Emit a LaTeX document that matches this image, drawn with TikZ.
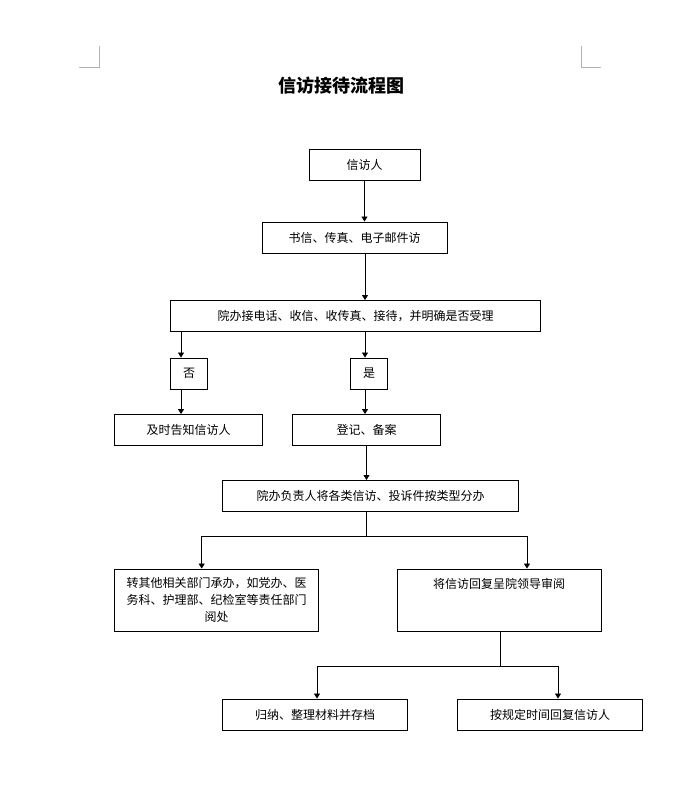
\documentclass[tikz,border=0pt]{standalone}
\usepackage{fontspec}
\newfontfamily\cjk{Noto Sans CJK SC}
\usetikzlibrary{arrows.meta}
\begin{document}
\begin{tikzpicture}[x=1pt,y=-1pt,
  box/.style={draw, line width=0.9pt, inner sep=0pt, align=center,
    font=\cjk\fontsize{12}{17}\selectfont},
  arr/.style={line width=0.8pt, -{Triangle[length=5pt,width=6pt]}},
  ln/.style={line width=0.8pt},
  crop/.style={draw=gray!60, line width=0.8pt}]
\useasboundingbox (0,0) rectangle (681,809);
% crop marks
\draw[crop] (79,67) -- (99,67) -- (99,46);
\draw[crop] (581,46) -- (581,67) -- (601,67);
% title
\node[font=\cjk\bfseries\fontsize{18}{20}\selectfont] (title) at (341,86) {信访接待流程图};
% boxes
\node[box, minimum width=111pt, minimum height=31pt] (b1) at (364.5,164.5) {信访人};
\node[box, minimum width=185pt, minimum height=31pt] (b2) at (354.5,237.5) {书信、传真、电子邮件访};
\node[box, minimum width=370pt, minimum height=31pt] (b3) at (355.5,316) {院办接电话、收信、收传真、接待，并明确是否受理};
\node[box, minimum width=37pt, minimum height=31pt] (no) at (189,373.5) {否};
\node[box, minimum width=37pt, minimum height=31pt] (yes) at (369,373.5) {是};
\node[box, minimum width=148pt, minimum height=31pt] (tell) at (188.5,430) {及时告知信访人};
\node[box, minimum width=148pt, minimum height=31pt] (reg) at (366.5,430) {登记、备案};
\node[box, minimum width=296pt, minimum height=31pt] (dist) at (370.5,496) {院办负责人将各类信访、投诉件按类型分办};
\node[box, minimum width=204pt, minimum height=62pt] (trans) at (216.5,600) {转其他相关部门承办，如党办、医\\务科、护理部、纪检室等责任部门\\阅处};
\node[box, minimum width=204pt, minimum height=62pt] (rev) at (499,600) {将信访回复呈院领导审阅\\~\\~};
\node[box, minimum width=185pt, minimum height=31pt] (arch) at (315,714.5) {归纳、整理材料并存档};
\node[box, minimum width=185pt, minimum height=31pt] (reply) at (550,714.5) {按规定时间回复信访人};
% helper coordinates
\coordinate (sp) at (365,0);
\coordinate (lx) at (181,0);
\coordinate (j1) at (366.7,536.7);
\coordinate (la) at (201.7,536.7);
\coordinate (ra) at (527,536.7);
\coordinate (j2) at (500,666.7);
\coordinate (lb) at (317,666.7);
\coordinate (rb) at (558,666.7);
% connectors
\draw[arr] (b1.south) -- (b1.south |- b2.north);
\draw[arr] (b2.south -| sp) -- (b3.north -| sp);
\draw[arr] (b3.south -| sp) -- (yes.north -| sp);
\draw[arr] (yes.south -| sp) -- (reg.north -| sp);
\draw[arr] (b3.south -| lx) -- (no.north -| lx);
\draw[arr] (no.south -| lx) -- (tell.north -| lx);
\draw[arr] (reg.south) -- (reg.south |- dist.north);
\draw[ln] (dist.south -| j1) -- (j1);
\draw[arr] (j1) -| (la |- trans.north);
\draw[arr] (j1) -| (ra |- rev.north);
\draw[ln] (rev.south -| j2) -- (j2);
\draw[arr] (j2) -| (lb |- arch.north);
\draw[arr] (j2) -| (rb |- reply.north);
\end{tikzpicture}
\end{document}
